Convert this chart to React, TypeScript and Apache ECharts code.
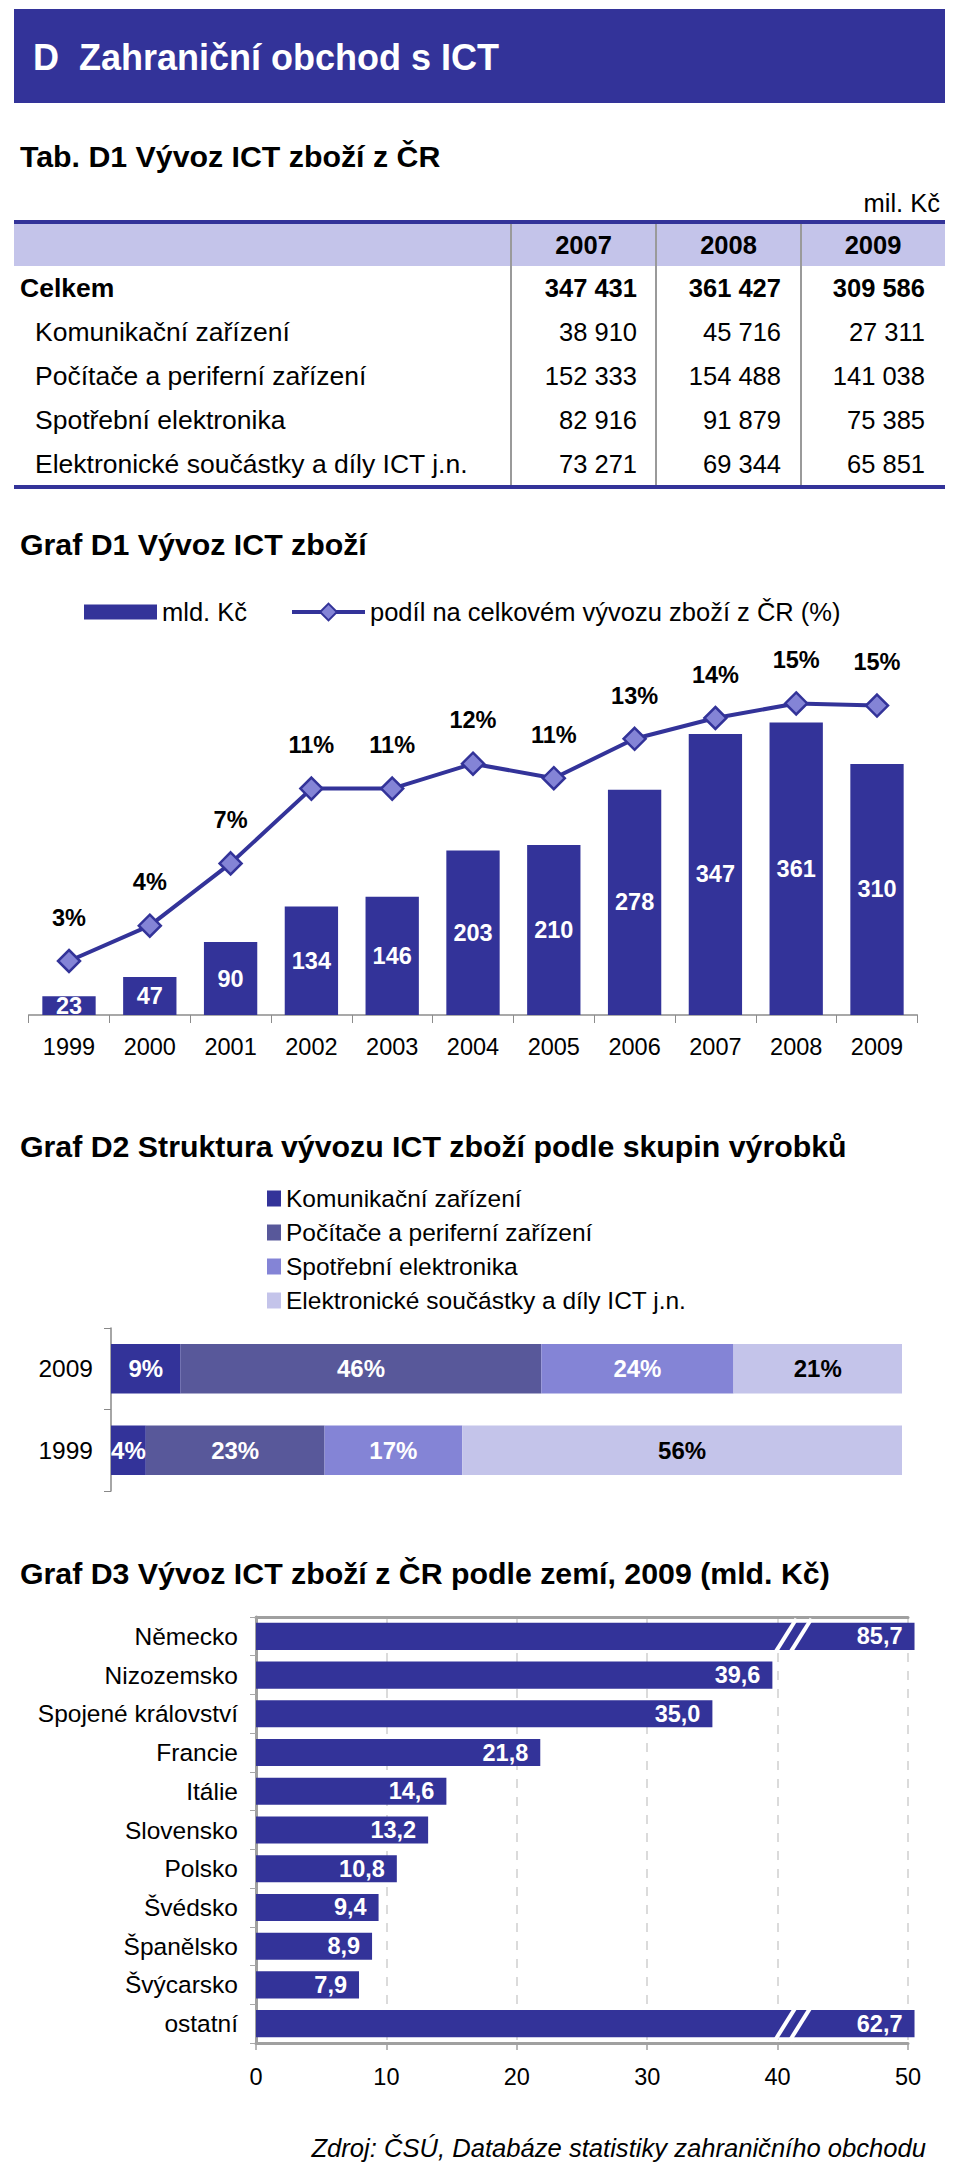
import React, { useEffect, useRef } from 'react';
import * as echarts from 'echarts';

const FONT = 'Arial, "Liberation Sans", Helvetica, sans-serif';
const NAVY = '#333399';

// ---- Tab. D1 ----
const tableYears = ['2007', '2008', '2009'];
const tableRowLabels = [
  'Celkem',
  'Komunikační zařízení',
  'Počítače a periferní zařízení',
  'Spotřební elektronika',
  'Elektronické součástky a díly ICT j.n.',
];
const tableCelkem = [347431, 361427, 309586];
const tableKomunikacni = [38910, 45716, 27311];
const tablePocitace = [152333, 154488, 141038];
const tableSpotrebni = [82916, 91879, 75385];
const tableElektronicke = [73271, 69344, 65851];

// ---- Graf D1 ----
const d1Years = ['1999', '2000', '2001', '2002', '2003', '2004', '2005', '2006', '2007', '2008', '2009'];
const d1ExportBn = [23, 47, 90, 134, 146, 203, 210, 278, 347, 361, 310];
const d1SharePct = [2.6, 4.3, 7.3, 10.9, 10.9, 12.1, 11.4, 13.3, 14.3, 15.0, 14.9];
const d1BarName = 'mld. Kč';
const d1LineName = 'podíl na celkovém vývozu zboží z ČR (%)';

// ---- Graf D2 ----
const d2Categories = ['1999', '2009'];
const d2Groups = [
  'Komunikační zařízení',
  'Počítače a periferní zařízení',
  'Spotřební elektronika',
  'Elektronické součástky a díly ICT j.n.',
];
const d2Share1999 = [4.4, 22.6, 17.4, 55.6];
const d2Share2009 = [8.8, 45.6, 24.3, 21.3];
const d2Colors = ['#333399', '#58589a', '#8484d6', '#c4c4ea'];
const d2LabelColors = ['#ffffff', '#ffffff', '#ffffff', '#000000'];

// ---- Graf D3 ----
const d3Countries = [
  'Německo', 'Nizozemsko', 'Spojené království', 'Francie', 'Itálie', 'Slovensko',
  'Polsko', 'Švédsko', 'Španělsko', 'Švýcarsko', 'ostatní',
];
const d3ExportBn = [85.7, 39.6, 35.0, 21.8, 14.6, 13.2, 10.8, 9.4, 8.9, 7.9, 62.7];
const D3_MAX = 50;
const D3_CAP = 50.5; // broken bars are drawn up to here
const D3_BREAK_AT = 40.6;

const fmtThousands = (n: number) => String(n).replace(/\B(?=(\d{3})+(?!\d))/g, ' ');

function buildGraphics() {
  const els: any[] = [];
  // header bar
  els.push({ type: 'rect', shape: { x: 14, y: 9, width: 931, height: 94 }, style: { fill: NAVY } });
  els.push({
    type: 'text', x: 33, y: 57,
    style: { text: 'D  Zahraniční obchod s ICT', fill: '#fff', fontSize: 36, fontWeight: 'bold', fontFamily: FONT, textVerticalAlign: 'middle' },
  });
  // section titles
  const titles: [string, number][] = [
    ['Tab. D1 Vývoz ICT zboží z ČR', 156],
    ['Graf D1 Vývoz ICT zboží', 544],
    ['Graf D2 Struktura vývozu ICT zboží podle skupin výrobků', 1146],
    ['Graf D3 Vývoz ICT zboží z ČR podle zemí, 2009 (mld. Kč)', 1573],
  ];
  titles.forEach(([t, y]) =>
    els.push({
      type: 'text', x: 20, y,
      style: { text: t, fill: '#000', fontSize: 30.3, fontWeight: 'bold', fontFamily: FONT, textVerticalAlign: 'middle' },
    })
  );
  els.push({
    type: 'text', x: 940, y: 203,
    style: { text: 'mil. Kč', fill: '#000', fontSize: 25.5, fontFamily: FONT, textAlign: 'right', textVerticalAlign: 'middle' },
  });

  // table
  const tLeft = 14, tRight = 945, tTop = 220, headH = 46, rowH = 44;
  const colSep = [511, 656, 801];
  const colRight = [637, 781, 925];
  const colCenter = [583.5, 728.5, 873];
  const rows = [tableCelkem, tableKomunikacni, tablePocitace, tableSpotrebni, tableElektronicke];
  const tBottom = tTop + headH + rows.length * rowH;
  els.push({ type: 'rect', shape: { x: tLeft, y: tTop + 3, width: tRight - tLeft, height: headH - 3 }, style: { fill: '#c4c4ea' } });
  colSep.forEach((x) =>
    els.push({ type: 'line', shape: { x1: x, y1: tTop + 3, x2: x, y2: tBottom }, style: { stroke: '#9a9a9a', lineWidth: 2 } })
  );
  els.push({ type: 'rect', shape: { x: tLeft, y: tTop, width: tRight - tLeft, height: 4 }, style: { fill: NAVY } });
  els.push({ type: 'rect', shape: { x: tLeft, y: tBottom - 1, width: tRight - tLeft, height: 4 }, style: { fill: NAVY } });
  tableYears.forEach((yr, j) =>
    els.push({
      type: 'text', x: colCenter[j], y: tTop + 3 + (headH - 3) / 2,
      style: { text: yr, fill: '#000', fontSize: 25.5, fontWeight: 'bold', fontFamily: FONT, textAlign: 'center', textVerticalAlign: 'middle' },
    })
  );
  rows.forEach((vals, i) => {
    const y = tTop + headH + rowH * i + rowH / 2;
    const bold = i === 0;
    els.push({
      type: 'text', x: bold ? 20 : 35, y,
      style: { text: tableRowLabels[i], fill: '#000', fontSize: 26.5, fontWeight: bold ? 'bold' : 'normal', fontFamily: FONT, textVerticalAlign: 'middle' },
    });
    vals.forEach((v, j) =>
      els.push({
        type: 'text', x: colRight[j], y,
        style: { text: fmtThousands(v), fill: '#000', fontSize: 25.5, fontWeight: bold ? 'bold' : 'normal', fontFamily: FONT, textAlign: 'right', textVerticalAlign: 'middle' },
      })
    );
  });

  // source
  els.push({
    type: 'text', x: 926, y: 2148,
    style: { text: 'Zdroj: ČSÚ, Databáze statistiky zahraničního obchodu', fill: '#000', fontSize: 25.6, fontStyle: 'italic', fontFamily: FONT, textAlign: 'right', textVerticalAlign: 'middle' },
  });
  return els;
}

export default function App() {
  const ref = useRef<HTMLDivElement>(null);
  useEffect(() => {
    document.body.style.margin = '0';
    if (!ref.current) return;
    const chart = echarts.init(ref.current, null, { renderer: 'svg' });

    const axisGray = '#8c8c8c';
    const option: any = {
      animation: false,
      backgroundColor: '#fff',
      textStyle: { fontFamily: FONT },
      graphic: { elements: buildGraphics() },
      legend: [
        {
          data: [{ name: d1BarName, icon: 'rect' }],
          left: 79, top: 594, itemWidth: 73, itemHeight: 15,
          textStyle: { fontSize: 25.5, color: '#000', fontFamily: FONT },
          selectedMode: false,
        },
        {
          data: [{ name: d1LineName }],
          left: 285, top: 594, itemWidth: 73, itemHeight: 21,
          lineStyle: { width: 4, color: NAVY },
          textStyle: { fontSize: 25.5, color: '#000', fontFamily: FONT },
          selectedMode: false,
        },
        {
          data: d2Groups, orient: 'vertical', left: 262, top: 1181,
          itemWidth: 14, itemHeight: 16, itemGap: 9, icon: 'rect',
          textStyle: { fontSize: 24.5, color: '#000', fontFamily: FONT },
          selectedMode: false,
        },
      ],
      grid: [
        { left: 28.6, right: 42.6, top: 610, height: 405 },
        { left: 111, right: 58, top: 1328, height: 163 },
        { left: 256, right: 52, top: 1617, height: 426 },
      ],
      xAxis: [
        {
          gridIndex: 0, type: 'category', data: d1Years,
          axisLine: { lineStyle: { color: axisGray, width: 1.5 } },
          axisTick: { show: true, length: 8, lineStyle: { color: axisGray } },
          axisLabel: { fontSize: 23.5, color: '#000', margin: 20, interval: 0 },
        },
        { gridIndex: 1, type: 'value', min: 0, max: 100, show: false },
        {
          gridIndex: 2, type: 'value', min: 0, max: D3_MAX, interval: 10, position: 'bottom',
          axisLine: { show: true, lineStyle: { color: '#a0a0a0', width: 3 } },
          axisTick: { show: true, length: 7, lineStyle: { color: '#a0a0a0', width: 1.5 } },
          axisLabel: { fontSize: 23.5, color: '#000', margin: 22 },
          splitLine: { show: true, lineStyle: { color: '#cfcfcf', type: [9, 9], width: 1.5 } },
        },
        {
          gridIndex: 2, type: 'value', min: 0, max: D3_MAX, position: 'top',
          axisLine: { show: true, lineStyle: { color: '#a0a0a0', width: 3 } },
          axisTick: { show: false }, axisLabel: { show: false }, splitLine: { show: false },
        },
      ],
      yAxis: [
        { gridIndex: 0, type: 'value', min: 0, max: 500, show: false },
        { gridIndex: 0, type: 'value', min: 0, max: 19.5, show: false },
        {
          gridIndex: 1, type: 'category', data: d2Categories,
          axisLine: { lineStyle: { color: '#888', width: 1.5 } },
          axisTick: { show: true, length: 7, lineStyle: { color: '#888' } },
          axisLabel: { fontSize: 24.5, color: '#000', margin: 18 },
        },
        {
          gridIndex: 2, type: 'category', data: d3Countries, inverse: true,
          axisLine: { lineStyle: { color: '#a8a8a8', width: 1.5 } },
          axisTick: { show: true, length: 6, lineStyle: { color: '#a8a8a8' } },
          axisLabel: { fontSize: 24.5, color: '#000', margin: 18, interval: 0 },
        },
        {
          gridIndex: 2, type: 'category', data: d3Countries, inverse: true, position: 'right',
          axisLine: { show: true, lineStyle: { color: '#a0a0a0', width: 3 } },
          axisTick: { show: false }, axisLabel: { show: false },
        },
      ],
      series: [
        {
          name: d1BarName, type: 'bar', xAxisIndex: 0, yAxisIndex: 0, data: d1ExportBn,
          barCategoryGap: '34%', itemStyle: { color: NAVY },
          label: { show: true, position: 'inside', color: '#fff', fontSize: 23.5, fontWeight: 'bold' },
        },
        {
          name: d1LineName, type: 'line', xAxisIndex: 0, yAxisIndex: 1, data: d1SharePct,
          symbol: 'diamond', symbolSize: 22,
          lineStyle: { color: NAVY, width: 4 },
          itemStyle: { color: '#8484d6', borderColor: NAVY, borderWidth: 2.5 },
          label: {
            show: true, position: 'top', distance: 19, color: '#000', fontSize: 23.5, fontWeight: 'bold',
            formatter: (p: any) => Math.round(p.value) + '%',
          },
          z: 5,
        },
        ...d2Groups.map((g, i) => ({
          name: g, type: 'bar', stack: 'd2', xAxisIndex: 1, yAxisIndex: 2,
          data: [d2Share1999[i], d2Share2009[i]],
          barCategoryGap: '39%',
          itemStyle: { color: d2Colors[i] },
          label: {
            show: true, position: 'inside', color: d2LabelColors[i], fontSize: 24, fontWeight: 'bold',
            formatter: (p: any) => Math.round(p.value) + '%',
          },
        })),
        {
          name: 'd3', type: 'bar', xAxisIndex: 2, yAxisIndex: 3,
          data: d3ExportBn.map((v) => Math.min(v, D3_CAP)),
          clip: false, barCategoryGap: '30%', itemStyle: { color: NAVY },
          label: {
            show: true, position: 'insideRight', distance: 12, color: '#fff', fontSize: 23.5, fontWeight: 'bold',
            formatter: (p: any) => d3ExportBn[p.dataIndex].toFixed(1).replace('.', ','),
          },
        },
        {
          name: 'd3break', type: 'custom', xAxisIndex: 2, yAxisIndex: 3, z: 10, clip: false,
          data: d3Countries.map((c, i) => (d3ExportBn[i] > D3_MAX ? [D3_BREAK_AT, i] : null)).filter((d) => d),
          renderItem: (params: any, api: any) => {
            const pt = api.coord([api.value(0), api.value(1)]);
            const band = api.size([0, 1])[1];
            const h = (band * 0.7) / 2 + 4;
            return {
              type: 'group',
              children: [0, 15].map((off) => ({
                type: 'line',
                shape: { x1: pt[0] + off - 11, y1: pt[1] + h, x2: pt[0] + off + 11, y2: pt[1] - h },
                style: { stroke: '#fff', lineWidth: 4 },
              })),
            };
          },
        },
      ],
    };
    chart.setOption(option);
    return () => chart.dispose();
  }, []);
  return <div ref={ref} style={{ width: 960, height: 2164 }} />;
}
